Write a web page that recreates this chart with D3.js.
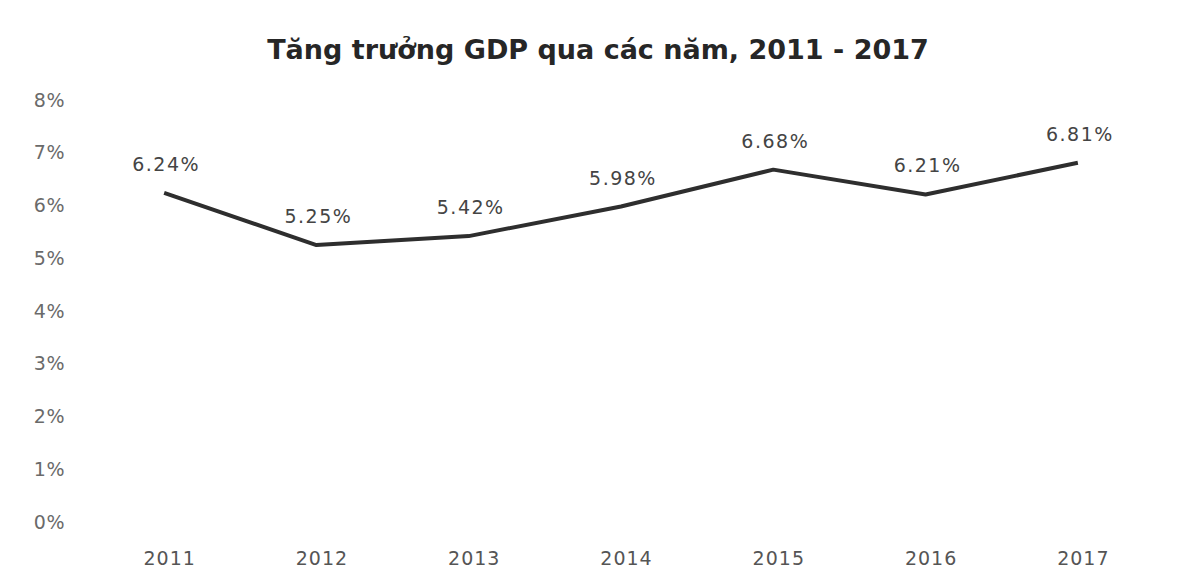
<!DOCTYPE html>
<html>
<head>
<meta charset="utf-8">
<script src="https://cdn.jsdelivr.net/npm/d3@7"></script>
<style>
  body { margin: 0; background: #fff; }
  text { font-family: "DejaVu Sans", sans-serif; }
</style>
</head>
<body>
<div id="chart"></div>
<script>
var years = ["2011", "2012", "2013", "2014", "2015", "2016", "2017"];
var growth = [6.24, 5.25, 5.42, 5.98, 6.68, 6.21, 6.81];
var yTicks = [0, 1, 2, 3, 4, 5, 6, 7, 8];
var title = "Tăng trưởng GDP qua các năm, 2011 - 2017";

var width = 1197, height = 583;

var svg = d3.select("#chart").append("svg")
  .attr("width", width)
  .attr("height", height);

var x = d3.scalePoint().domain(years).range([88, 1154]).padding(0.5);
var y = d3.scaleLinear().domain([0, 8]).range([522, 100]);

svg.append("text")
  .attr("x", 598)
  .attr("y", 59)
  .attr("text-anchor", "middle")
  .attr("font-size", 27)
  .attr("font-weight", "bold")
  .attr("fill", "#262626")
  .text(title);

// y axis labels, no line
var yAxis = d3.axisLeft(y).tickValues(yTicks).tickSize(0).tickPadding(0)
  .tickFormat(function(d) { return d + "%"; });
var gY = svg.append("g").attr("transform", "translate(65,0)").call(yAxis);
gY.select(".domain").remove();
gY.selectAll("text")
  .attr("font-size", 19)
  .attr("letter-spacing", 0.5)
  .attr("fill", "#6a6a6a")
  .style("font-family", "'DejaVu Sans', sans-serif");

// x axis labels
var xAxis = d3.axisBottom(x).tickSize(0).tickPadding(0);
var gX = svg.append("g").attr("transform", "translate(5,551)").call(xAxis);
gX.select(".domain").remove();
gX.selectAll("text")
  .attr("font-size", 19)
  .attr("letter-spacing", 1)
  .attr("fill", "#555")
  .style("font-family", "'DejaVu Sans', sans-serif");

var pts = years.map(function(d, i) { return {year: d, v: growth[i]}; });

var line = d3.line()
  .x(function(d) { return x(d.year); })
  .y(function(d) { return y(d.v); });

svg.append("path")
  .datum(pts)
  .attr("d", line)
  .attr("fill", "none")
  .attr("stroke", "#2e2e2e")
  .attr("stroke-width", 4)
  .attr("stroke-linejoin", "round");

svg.append("g").selectAll("text")
  .data(pts)
  .enter().append("text")
  .attr("x", function(d) { return x(d.year) + 2; })
  .attr("y", function(d) { return y(d.v) - 22; })
  .attr("text-anchor", "middle")
  .attr("font-size", 19)
  .attr("letter-spacing", 1.5)
  .attr("fill", "#444")
  .text(function(d) { return d.v.toFixed(2) + "%"; });
</script>
</body>
</html>
